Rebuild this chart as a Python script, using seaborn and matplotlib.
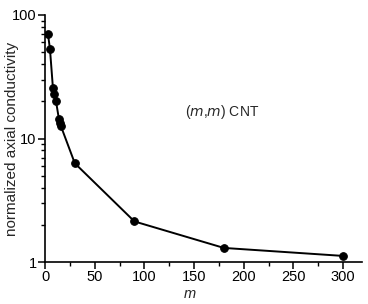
import matplotlib
matplotlib.use("Agg")
import matplotlib.pyplot as plt
from matplotlib.ticker import MultipleLocator, LogLocator, NullFormatter, FixedLocator, FixedFormatter
import seaborn as sns
import pandas as pd

# chirality index m of (m,m) CNT and normalized axial conductivity
m_vals = [3, 5, 8, 9, 11, 14, 15, 16, 30, 90, 180, 300]
cond = [70, 53, 25.5, 22.8, 20.2, 14.4, 13.4, 12.6, 6.3, 2.13, 1.30, 1.12]

df = pd.DataFrame({'m': m_vals, 'cond': cond})

sns.set_theme(style="ticks")
plt.rcParams['font.family'] = ['Liberation Sans', 'DejaVu Sans']

fig = plt.figure(figsize=(3.68, 3.04), dpi=100)
ax = fig.add_axes([45 / 368, 1 - 262 / 304, (362 - 45) / 368, (262 - 15) / 304])

sns.lineplot(data=df, x='m', y='cond', ax=ax, color='black', lw=1.4,
             marker='o', markersize=5.5, markeredgecolor='black', markerfacecolor='black')

ax.set_yscale('log')
ax.set_ylim(1, 100)
ax.set_xlim(0, 319)
ax.yaxis.set_major_locator(FixedLocator([1, 10, 100]))
ax.yaxis.set_major_formatter(FixedFormatter(['1', '10', '100']))
ax.yaxis.set_minor_locator(LogLocator(base=10, subs=range(2, 10)))
ax.yaxis.set_minor_formatter(NullFormatter())
ax.xaxis.set_major_locator(MultipleLocator(50))
ax.xaxis.set_minor_locator(MultipleLocator(25))

sns.despine(ax=ax)
for s in ['left', 'bottom']:
    ax.spines[s].set_linewidth(1.2)
    ax.spines[s].set_color('black')
ax.tick_params(which='major', direction='out', length=5, width=1.1, labelsize=10.5, colors='black', pad=1)
ax.tick_params(which='minor', direction='out', length=3, width=1.0, colors='black')

ax.set_xlabel('m', fontstyle='italic', fontsize=10.5, va='center')
ax.xaxis.set_label_coords((190 - 45) / 317, -(294 - 262) / 247)
ax.set_ylabel('normalized axial conductivity', fontsize=11, va='center')
ax.yaxis.set_label_coords(-(45 - 12) / 317, 0.5)

ax.text(141, 16.4, r'($\it{m}$,$\it{m}$) CNT', fontsize=10, va='center', ha='left')

plt.savefig('out.png', dpi=100)
